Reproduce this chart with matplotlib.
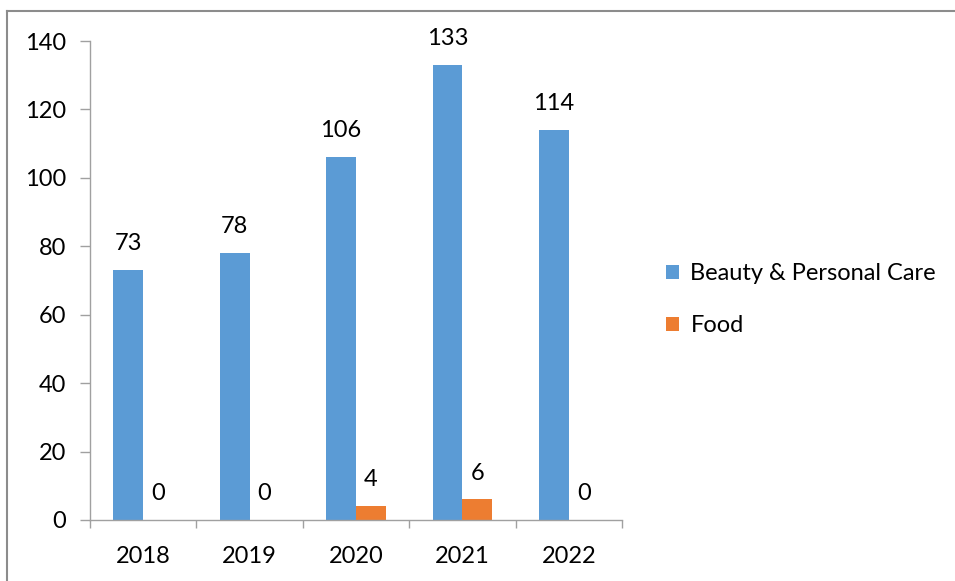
import matplotlib
matplotlib.use("Agg")
import matplotlib.pyplot as plt
import numpy as np
from matplotlib.lines import Line2D

years = ["2018", "2019", "2020", "2021", "2022"]
beauty = [73, 78, 106, 133, 114]
food = [0, 0, 4, 6, 0]
series_names = ["Beauty & Personal Care", "Food"]
y_ticks = [0, 20, 40, 60, 80, 100, 120, 140]

blue = "#5B9BD5"
orange = "#ED7D31"
axis_gray = "#A0A0A0"

plt.rcParams["font.family"] = ["Lato", "DejaVu Sans"]
fs = 17

fig = plt.figure(figsize=(9.55, 5.81), dpi=100)
ax = fig.add_axes([90 / 955, 1 - 520 / 581, 532 / 955, 479 / 581])

x = np.arange(len(years))
w = 0.28
b1 = ax.bar(x - w / 2, beauty, w, color=blue, label=series_names[0])
b2 = ax.bar(x + w / 2, food, w, color=orange, label=series_names[1])

for bars, vals in ((b1, beauty), (b2, food)):
    for r, v in zip(bars, vals):
        ax.annotate(str(v), (r.get_x() + r.get_width() / 2, v),
                    xytext=(0, 19), textcoords="offset points",
                    ha="center", va="center", fontsize=fs)

ax.set_xlim(-0.5, len(years) - 0.5)
ax.set_ylim(0, 140)
ax.set_yticks(y_ticks)
ax.set_xticks(x)
ax.set_xticklabels(years)
ax.set_xticks(np.arange(len(years) + 1) - 0.5, minor=True)
ax.tick_params(axis="x", which="major", length=0, pad=19, labelsize=fs)
ax.tick_params(axis="x", which="minor", length=6, color=axis_gray, width=1)
ax.tick_params(axis="y", length=7, color=axis_gray, width=1, pad=10, labelsize=fs)

for s in ("top", "right"):
    ax.spines[s].set_visible(False)
for s in ("left", "bottom"):
    ax.spines[s].set_color(axis_gray)
    ax.spines[s].set_linewidth(1)

ax.legend(loc="center left", bbox_to_anchor=(1.042, 0.46), frameon=False,
          fontsize=fs, handlelength=0.55, handleheight=0.55,
          handletextpad=0.5, labelspacing=1.3)

# outer chart-area border (left and top edges)
border = "#8C8C8C"
fig.add_artist(Line2D([7 / 955, 7 / 955], [0, 1 - 11 / 581],
                      transform=fig.transFigure, color=border, lw=1.5))
fig.add_artist(Line2D([7 / 955, 1], [1 - 11 / 581, 1 - 11 / 581],
                      transform=fig.transFigure, color=border, lw=1.5))

fig.savefig("out.png", dpi=100, facecolor="white")
